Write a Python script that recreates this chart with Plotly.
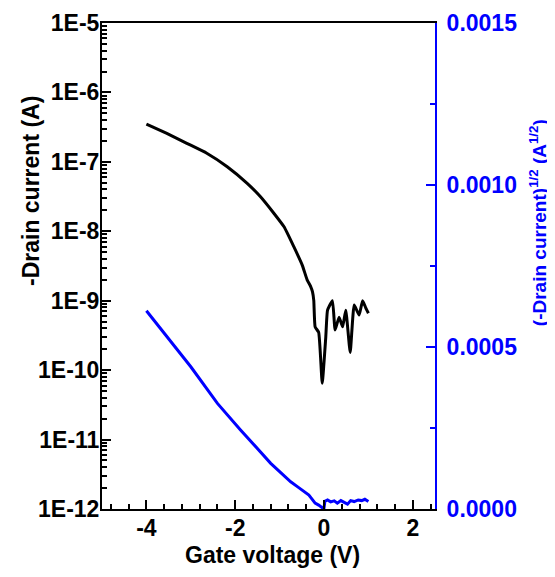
import plotly.graph_objects as go

# Black curve: -Drain current (A) vs gate voltage (V), log axis
vg_black = [-4.0, -3.54, -3.09, -2.64, -2.18, -1.73, -1.43, -1.13, -0.9, -0.68, -0.49, -0.38,
            -0.3, -0.26, -0.23, -0.2, -0.12, -0.04, 0.04, 0.08, 0.19, 0.25, 0.34, 0.42,
            0.49, 0.59, 0.68, 0.79, 0.87, 0.94, 1.0]
id_black = [3.5e-7, 2.57e-7, 1.85e-7, 1.33e-7, 8.5e-8, 4.9e-8, 3.14e-8, 1.82e-8, 1.16e-8, 6.0e-9,
            3.26e-9, 2.0e-9, 1.6e-9, 1.35e-9, 1.0e-9, 4.2e-10, 3.5e-10, 6.5e-11, 3.0e-10, 7.3e-10,
            1.0e-9, 3.8e-10, 5.8e-10, 4.2e-10, 7.3e-10, 1.8e-10, 8.7e-10, 6.2e-10, 1.0e-9, 7.9e-10,
            6.6e-10]

# Blue curve: (-Drain current)^1/2 (A^1/2), linear right axis
vg_blue = [-4.0, -3.46, -3.0, -2.4, -1.88, -1.2, -0.75, -0.6, -0.45, -0.34, -0.3, -0.26, -0.2,
           -0.12, -0.04, 0.0, 0.02, 0.08, 0.15, 0.23, 0.3, 0.38, 0.45, 0.53, 0.6, 0.68, 0.77,
           0.85, 0.92, 1.0]
sqrt_id_blue = [6.12e-4, 5.20e-4, 4.39e-4, 3.26e-4, 2.44e-4, 1.41e-4, 0.84e-4, 0.69e-4, 0.55e-4,
                0.43e-4, 0.36e-4, 0.3e-4, 0.18e-4, 0.12e-4, 0.04e-4, 0.03e-4, 0.24e-4, 0.28e-4,
                0.22e-4, 0.25e-4, 0.18e-4, 0.26e-4, 0.21e-4, 0.15e-4, 0.26e-4, 0.23e-4, 0.28e-4,
                0.26e-4, 0.3e-4, 0.23e-4]

x_tickvals = [-4, -2, 0, 2]
x_ticktext = ["-4", "-2", "0", "2"]
y_tickvals = [1e-12, 1e-11, 1e-10, 1e-9, 1e-8, 1e-7, 1e-6, 1e-5]
y_ticktext = ["1E-12", "1E-11", "1E-10", "1E-9", "1E-8", "1E-7", "1E-6", "1E-5"]
y2_tickvals = [0.0, 0.0005, 0.0010, 0.0015]
y2_ticktext = ["0.0000", "0.0005", "0.0010", "0.0015"]

x_title = "Gate voltage (V)"
y_title = "-Drain current (A)"
y2_title = "(-Drain current)<sup>1/2</sup> (A<sup>1/2</sup>)"

y_minor = [m * 10.0 ** e for e in range(-12, -5) for m in range(2, 10)]

FONT = "Liberation Sans"
BLUE = "#0000FF"

fig = go.Figure()
fig.add_trace(go.Scatter(x=vg_black, y=id_black, mode="lines",
                         line=dict(color="black", width=3, shape="spline", smoothing=0.4),
                         yaxis="y"))
fig.add_trace(go.Scatter(x=vg_blue, y=sqrt_id_blue, mode="lines",
                         line=dict(color=BLUE, width=3), yaxis="y2"))

fig.update_layout(
    template="none",
    width=555, height=577,
    margin=dict(l=94, r=128, t=15, b=76, autoexpand=False),
    paper_bgcolor="white", plot_bgcolor="white",
    showlegend=False,
    font=dict(family=FONT, color="black"),
    xaxis=dict(
        range=[-5, 2.5], showgrid=False, zeroline=False, automargin=False,
        showline=True, linecolor="black", linewidth=2, mirror=True,
        tickmode="array", tickvals=x_tickvals, ticktext=x_ticktext,
        ticks="inside", ticklen=9, tickwidth=2, tickcolor="black",
        ticklabelstandoff=-3,
        minor=dict(ticks="inside", dtick=0.4, tick0=0, ticklen=5, tickwidth=2,
                   tickcolor="black", showgrid=False),
        tickfont=dict(family=FONT, size=23, color="black", weight="bold"),
    ),
    yaxis=dict(
        type="log", range=[-12, -5], showgrid=False, zeroline=False, automargin=False,
        showline=True, linecolor="black", linewidth=2,
        tickmode="array", tickvals=y_tickvals, ticktext=y_ticktext,
        ticks="inside", ticklen=9, tickwidth=2, tickcolor="black",
        ticklabelstandoff=-4,
        minor=dict(ticks="inside", tickmode="array", tickvals=y_minor, ticklen=5,
                   tickwidth=1.5, tickcolor="black", showgrid=False),
        tickfont=dict(family=FONT, size=23, color="black", weight="bold"),
    ),
    yaxis2=dict(
        overlaying="y", side="right", range=[0, 0.0015], automargin=False,
        showgrid=False, zeroline=False,
        showline=True, linecolor=BLUE, linewidth=2,
        tickmode="array", tickvals=y2_tickvals, ticktext=y2_ticktext,
        ticks="inside", ticklen=9, tickwidth=2, tickcolor=BLUE,
        ticklabelstandoff=5,
        minor=dict(ticks="inside", dtick=0.00025, tick0=0, ticklen=5, tickwidth=2,
                   tickcolor=BLUE, showgrid=False),
        tickfont=dict(family=FONT, size=23, color=BLUE, weight="bold"),
    ),
    annotations=[
        dict(text=x_title, xref="paper", yref="paper", x=0.5135, y=-0.0947,
             xanchor="center", yanchor="middle", showarrow=False,
             font=dict(family=FONT, size=23, color="black", weight="bold")),
        dict(text=y_title, xref="paper", yref="paper", x=-0.2132, y=0.6543,
             xanchor="center", yanchor="middle", showarrow=False, textangle=-90,
             font=dict(family=FONT, size=23, color="black", weight="bold")),
        dict(text=y2_title, xref="paper", yref="paper", x=1.309, y=0.59,
             xanchor="center", yanchor="middle", showarrow=False, textangle=-90,
             font=dict(family=FONT, size=19, color=BLUE, weight="bold")),
    ],
)

fig.write_html("out.html")
